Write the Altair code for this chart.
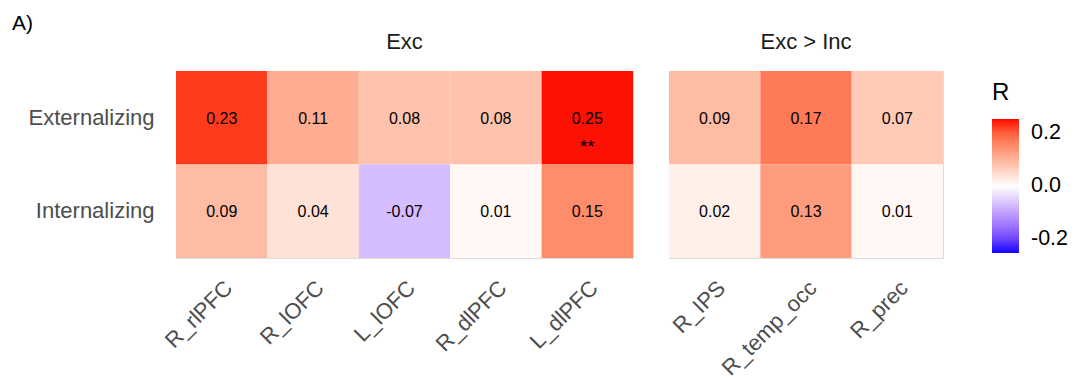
import altair as alt
import pandas as pd

# Correlations (R) between symptom dimensions and regional activity
rows = ["Externalizing", "Internalizing"]

regions_exc = ["R_rlPFC", "R_lOFC", "L_lOFC", "R_dlPFC", "L_dlPFC"]
ext_exc = [0.23, 0.11, 0.08, 0.08, 0.25]
int_exc = [0.09, 0.04, -0.07, 0.01, 0.15]
sig_ext_exc = ["", "", "", "", "**"]
sig_int_exc = ["", "", "", "", ""]

regions_ei = ["R_IPS", "R_temp_occ", "R_prec"]
ext_ei = [0.09, 0.17, 0.07]
int_ei = [0.02, 0.13, 0.01]
sig_ext_ei = ["", "", ""]
sig_int_ei = ["", "", ""]

color_ticks = [-0.2, 0.0, 0.2]
color_limit = 0.253

FONT = "Liberation Sans"


def build_table(regions, ext, intern, sig_ext, sig_int):
    recs = []
    for reg, v, s in zip(regions, ext, sig_ext):
        recs.append({"region": reg, "scale": rows[0], "r": v, "label": f"{v:.2f}", "sig": s})
    for reg, v, s in zip(regions, intern, sig_int):
        recs.append({"region": reg, "scale": rows[1], "r": v, "label": f"{v:.2f}", "sig": s})
    return pd.DataFrame(recs)


color_scale = alt.Scale(
    domain=[-color_limit, 0, color_limit],
    range=["blue", "white", "red"],
    interpolate="lab",
)

legend = alt.Legend(
    title="R",
    orient="none",
    legendX=816,
    legendY=10,
    direction="vertical",
    gradientLength=134,
    gradientThickness=27,
    gradientStrokeWidth=0,
    titleFontSize=24,
    titleFontWeight="normal",
    titleColor="black",
    titlePadding=14,
    labelFontSize=21.5,
    labelColor="black",
    labelOffset=12,
    values=color_ticks,
    labelExpr="datum.value < 0 ? '-' + format(-datum.value, '.1f') : format(datum.value, '.1f')",
)


def panel(df, regions, title, width, show_y):
    x = alt.X(
        "region:N",
        sort=regions,
        title=None,
        scale=alt.Scale(paddingInner=0, paddingOuter=0),
        axis=alt.Axis(
            labelAngle=-45,
            labelFontSize=22,
            labelColor="#4D4D4D",
            labelPadding=19,
            labelOffset=0,
            ticks=False,
            domain=False,
            labelFont=FONT,
        ),
    )
    y_axis = (
        alt.Axis(
            labelFontSize=22,
            labelColor="#4D4D4D",
            labelPadding=22,
            ticks=False,
            domain=False,
            labelFont=FONT,
        )
        if show_y
        else None
    )
    y = alt.Y(
        "scale:N",
        sort=rows,
        title=None,
        scale=alt.Scale(paddingInner=0, paddingOuter=0),
        axis=y_axis,
    )
    base = alt.Chart(df).encode(x=x, y=y)
    tiles = base.mark_rect().encode(
        color=alt.Color("r:Q", scale=color_scale, legend=legend if show_y else None)
    )
    values = base.mark_text(fontSize=16, font=FONT, color="black", baseline="middle", dy=1).encode(
        text="label:N"
    )
    stars = base.mark_text(fontSize=19, font=FONT, color="black", baseline="middle", dy=29).encode(
        text="sig:N"
    )
    return alt.layer(tiles, values, stars).properties(
        width=width,
        height=187,
        title=alt.TitleParams(
            title,
            fontSize=22,
            fontWeight="normal",
            color="#1A1A1A",
            font=FONT,
            anchor="middle",
            baseline="alphabetic",
            offset=0,
        ),
    )


exc = panel(build_table(regions_exc, ext_exc, int_exc, sig_ext_exc, sig_int_exc),
            regions_exc, "Exc", 457, True)
exc_inc = panel(build_table(regions_ei, ext_ei, int_ei, sig_ext_ei, sig_int_ei),
                regions_ei, "Exc > Inc", 274, False)

chart = (
    alt.hconcat(exc, exc_inc, spacing=33)
    .resolve_scale(color="shared")
    .properties(
        title=alt.TitleParams(
            "A)",
            fontSize=21,
            fontWeight="normal",
            color="black",
            font=FONT,
            anchor="start",
            frame="group",
            baseline="alphabetic",
            offset=0,
            dx=-164,
            dy=20,
        ),
        padding={"left": 12, "top": 12, "right": 5, "bottom": 5},
        background="white",
    )
    .configure_view(strokeWidth=0)
    .configure(font=FONT)
)

chart.save("out.html", embed_options={"renderer": "svg", "actions": False})
